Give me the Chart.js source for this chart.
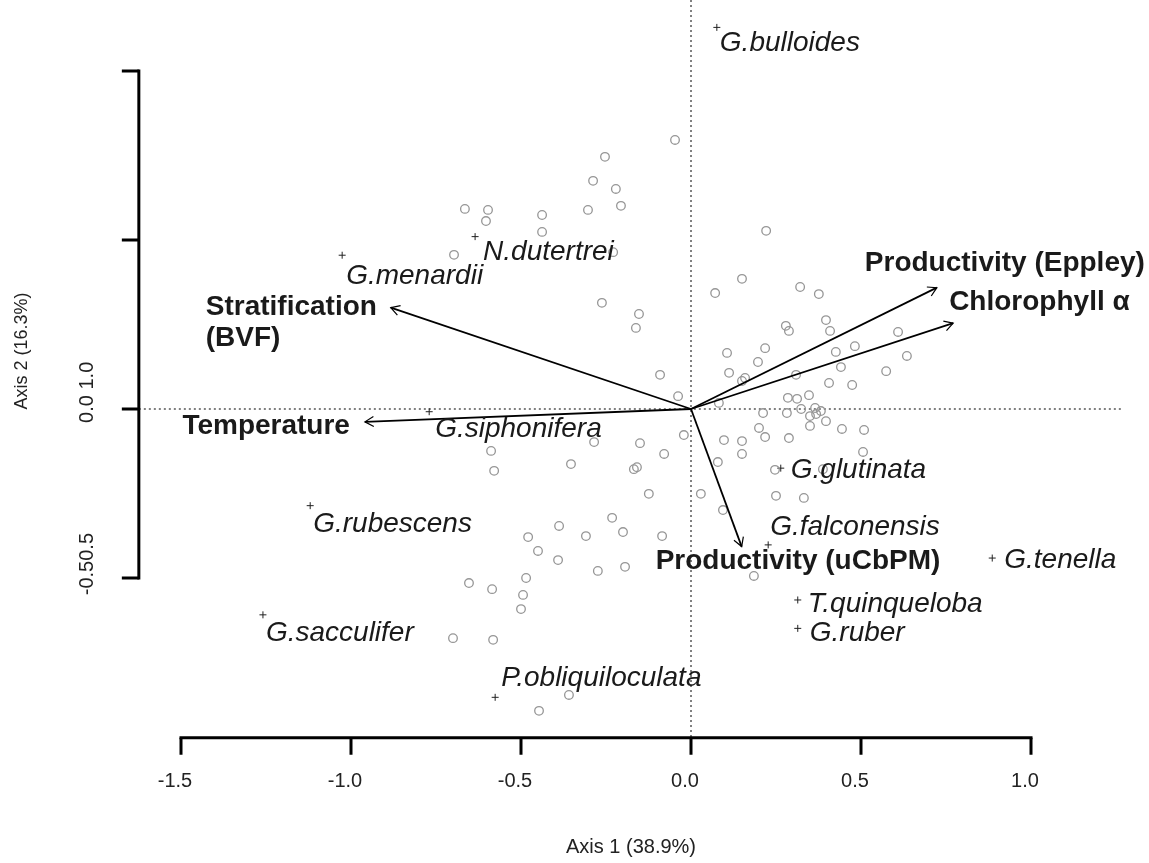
<!DOCTYPE html>
<html>
<head>
<meta charset="utf-8">
<script src="https://cdn.jsdelivr.net/npm/chart.js@4.4.1/dist/chart.umd.min.js"></script>
<style>
    html, body { margin: 0; padding: 0; background: #fff; }
    #wrap { width: 1149px; height: 863px; position: relative; }
</style>
</head>
<body>
<div id="wrap"><canvas id="biplot"></canvas></div>
<script>
// site scores (axis 1, axis 2)
const siteX = [
    -0.047, -0.253, -0.288, -0.221, -0.665, -0.597, -0.603, -0.438, -0.438, -0.303,
    -0.206, -0.697, -0.229, -0.262, -0.153, -0.162, -0.091, -0.038,
    0.221, 0.150, 0.071, 0.321, 0.376, 0.397, 0.409, 0.279, 0.288, 0.609,
    0.482, 0.426, 0.218, 0.106, 0.635, 0.197, 0.441, 0.112, 0.574, 0.309,
    0.150, 0.159, 0.406, 0.474, 0.347, 0.285, 0.312, 0.082, 0.324, 0.365,
    0.382, 0.368, 0.212, 0.282, 0.350, 0.397,
    0.444, 0.509, 0.200, 0.218, 0.288, 0.097, 0.150, 0.150, 0.506, 0.079,
    -0.021, 0.247, 0.388, 0.029, 0.250, 0.332, 0.094, 0.185, 0.350,
    -0.285, -0.150, -0.079, -0.588, -0.579, -0.353, -0.159, -0.168, -0.124, -0.232,
    -0.200, -0.388, -0.309, -0.085, -0.479, -0.450, -0.391, -0.274, -0.194, -0.653,
    -0.585, -0.485, -0.494, -0.500, -0.700, -0.582, -0.359, -0.447
];
const siteY = [
    0.796, 0.746, 0.675, 0.651, 0.592, 0.589, 0.556, 0.574, 0.524, 0.589,
    0.601, 0.456, 0.464, 0.314, 0.281, 0.240, 0.101, 0.038,
    0.527, 0.385, 0.343, 0.361, 0.340, 0.263, 0.231, 0.246, 0.231, 0.228,
    0.186, 0.169, 0.180, 0.166, 0.157, 0.139, 0.124, 0.107, 0.112, 0.101,
    0.083, 0.092, 0.077, 0.071, 0.041, 0.033, 0.030, 0.018, 0.000, 0.003,
    -0.006, -0.015, -0.012, -0.012, -0.021, -0.036,
    -0.059, -0.062, -0.056, -0.083, -0.086, -0.092, -0.095, -0.133, -0.127, -0.157,
    -0.077, -0.180, -0.178, -0.251, -0.257, -0.263, -0.299, -0.494, -0.050,
    -0.098, -0.101, -0.133, -0.124, -0.183, -0.163, -0.172, -0.178, -0.251, -0.322,
    -0.364, -0.346, -0.376, -0.376, -0.379, -0.420, -0.447, -0.479, -0.467, -0.515,
    -0.533, -0.500, -0.550, -0.592, -0.678, -0.683, -0.846, -0.893
];

// species scores
const speciesNames = [
    'G.bulloides', 'N.dutertrei', 'G.menardii', 'G.siphonifera', 'G.rubescens', 'G.sacculifer',
    'P.obliquiloculata', 'G.glutinata', 'G.falconensis', 'G.tenella', 'T.quinqueloba', 'G.ruber'
];
const speciesX = [0.076, -0.635, -1.026, -0.770, -1.120, -1.259, -0.576, 0.264, 0.227, 0.886, 0.314, 0.314];
const speciesY = [1.129, 0.510, 0.455, -0.008, -0.286, -0.609, -0.853, -0.175, -0.402, -0.441, -0.565, -0.649];

// environmental vectors
const envNames = [
    ['Productivity (Eppley)'], ['Chlorophyll α'], ['Stratification', '(BVF)'],
    ['Temperature'], ['Productivity (uCbPM)']
];
const envX = [0.723, 0.771, -0.883, -0.959, 0.149];
const envY = [0.359, 0.254, 0.300, -0.038, -0.407];

const xTicks = [-1.5, -1.0, -0.5, 0.0, 0.5, 1.0];
const xTickLabels = ['-1.5', '-1.0', '-0.5', '0.0', '0.5', '1.0'];
const yTicks = [-0.5, 0.0, 0.5, 1.0];
// the y labels overlap in pairs, each run starts at one tick
const yLabelRuns = [
    { at: -0.5, lead: '-0.5', text: '-0.50.5' },
    { at: 0.0, lead: '0.0', text: '0.0 1.0' }
];
const xTitle = 'Axis 1 (38.9%)';
const yTitle = 'Axis 2 (16.3%)';

// plot region in axis units (frame for the zero lines and axes)
const region = { xMin: -1.624, xMax: 1.271, yMin: -0.973, yMax: 1.21 };

// label placement, pixels from the mark
const speciesOffsets = [
    [3, 16], [8, 16], [4, 21], [6, 17], [3, 19], [3, 18],
    [6, -19], [10, 2], [2, -18], [12, 2], [10, 4], [12, 5]
];
const envLabelPos = [
    { dx: -72, dy: -24, align: 'left' },
    { dx: -4, dy: -21, align: 'left' },
    { dx: -185, dy: 0, align: 'left' },
    { dx: -15, dy: 4, align: 'right' },
    { dx: -86, dy: 15, align: 'left' }
];

const FONT = '"Liberation Sans", Arial, Helvetica, sans-serif';

const biplotDecor = {
    id: 'biplotDecor',
    beforeDatasetsDraw(chart) {
        const ctx = chart.ctx;
        const px = v => chart.scales.x.getPixelForValue(v);
        const py = v => chart.scales.y.getPixelForValue(v);
        ctx.save();
        ctx.strokeStyle = '#000';
        ctx.lineWidth = 1;
        ctx.setLineDash([2, 3]);
        ctx.beginPath();
        ctx.moveTo(px(region.xMin), py(0));
        ctx.lineTo(px(region.xMax), py(0));
        ctx.moveTo(px(0), py(region.yMax));
        ctx.lineTo(px(0), py(region.yMin));
        ctx.stroke();
        ctx.restore();
    },
    afterDatasetsDraw(chart) {
        const ctx = chart.ctx;
        const px = v => chart.scales.x.getPixelForValue(v);
        const py = v => chart.scales.y.getPixelForValue(v);
        const ox = px(0), oy = py(0);
        ctx.save();

        // axes
        ctx.strokeStyle = '#000';
        ctx.lineWidth = 3;
        ctx.lineCap = 'square';
        const axX = px(region.xMin), axY = py(region.yMin);
        ctx.beginPath();
        ctx.moveTo(axX, py(yTicks[0]));
        ctx.lineTo(axX, py(yTicks[yTicks.length - 1]));
        ctx.moveTo(px(xTicks[0]), axY);
        ctx.lineTo(px(xTicks[xTicks.length - 1]), axY);
        ctx.stroke();
        ctx.lineCap = 'butt';
        ctx.beginPath();
        yTicks.forEach(t => { ctx.moveTo(axX, py(t)); ctx.lineTo(axX - 17, py(t)); });
        xTicks.forEach(t => { ctx.moveTo(px(t), axY); ctx.lineTo(px(t), axY + 17); });
        ctx.stroke();

        ctx.fillStyle = '#222';
        ctx.font = '20px ' + FONT;
        ctx.textAlign = 'center';
        ctx.textBaseline = 'middle';
        xTicks.forEach((t, i) => ctx.fillText(xTickLabels[i], px(t) - 6, axY + 44));
        ctx.fillText(xTitle, (px(region.xMin) + px(region.xMax)) / 2, axY + 110);

        yLabelRuns.forEach(run => {
            ctx.save();
            ctx.translate(axX - 51, py(run.at));
            ctx.rotate(-Math.PI / 2);
            ctx.textAlign = 'left';
            ctx.fillText(run.text, -ctx.measureText(run.lead).width / 2, 0);
            ctx.restore();
        });
        ctx.save();
        ctx.font = '18px ' + FONT;
        ctx.translate(22, 351);
        ctx.rotate(-Math.PI / 2);
        ctx.fillText(yTitle, 0, 0);
        ctx.restore();

        // environmental arrows
        ctx.strokeStyle = '#000';
        envX.forEach((vx, i) => {
            const tx = px(vx), ty = py(envY[i]);
            const ang = Math.atan2(ty - oy, tx - ox);
            ctx.lineWidth = 1.8;
            ctx.beginPath();
            ctx.moveTo(ox, oy);
            ctx.lineTo(tx, ty);
            ctx.stroke();
            ctx.lineWidth = 1.2;
            ctx.beginPath();
            ctx.moveTo(tx - 10 * Math.cos(ang - Math.PI / 6), ty - 10 * Math.sin(ang - Math.PI / 6));
            ctx.lineTo(tx, ty);
            ctx.lineTo(tx - 10 * Math.cos(ang + Math.PI / 6), ty - 10 * Math.sin(ang + Math.PI / 6));
            ctx.stroke();
        });

        // species names
        ctx.fillStyle = '#1a1a1a';
        ctx.font = 'italic 28px ' + FONT;
        ctx.textAlign = 'left';
        speciesNames.forEach((name, i) => {
            const [dx, dy] = speciesOffsets[i];
            ctx.fillText(name, px(speciesX[i]) + dx, py(speciesY[i]) + dy);
        });

        // vector names
        ctx.font = 'bold 28px ' + FONT;
        envNames.forEach((lines, i) => {
            const p = envLabelPos[i];
            ctx.textAlign = p.align;
            lines.forEach((line, k) => {
                ctx.fillText(line, px(envX[i]) + p.dx, py(envY[i]) + p.dy + k * 31);
            });
        });
        ctx.restore();
    }
};

new Chart(document.getElementById('biplot'), {
    type: 'scatter',
    data: {
        datasets: [
            {
                label: 'sites',
                data: siteX.map((x, i) => ({ x: x, y: siteY[i] })),
                pointStyle: 'circle',
                pointRadius: 4.3,
                borderWidth: 1.3,
                borderColor: '#969696',
                backgroundColor: 'rgba(0,0,0,0)'
            },
            {
                label: 'species',
                data: speciesX.map((x, i) => ({ x: x, y: speciesY[i] })),
                pointStyle: 'cross',
                pointRadius: 3.5,
                borderWidth: 1,
                borderColor: '#222'
            }
        ]
    },
    options: {
        responsive: true,
        maintainAspectRatio: false,
        devicePixelRatio: 1,
        animation: false,
        layout: { padding: 0, autoPadding: false },
        scales: {
            x: { type: 'linear', min: -691 / 340, max: 458 / 340, display: false },
            y: { type: 'linear', min: -454 / 338, max: 409 / 338, display: false }
        },
        plugins: {
            legend: { display: false },
            tooltip: { enabled: false }
        }
    },
    plugins: [biplotDecor]
});
</script>
</body>
</html>
